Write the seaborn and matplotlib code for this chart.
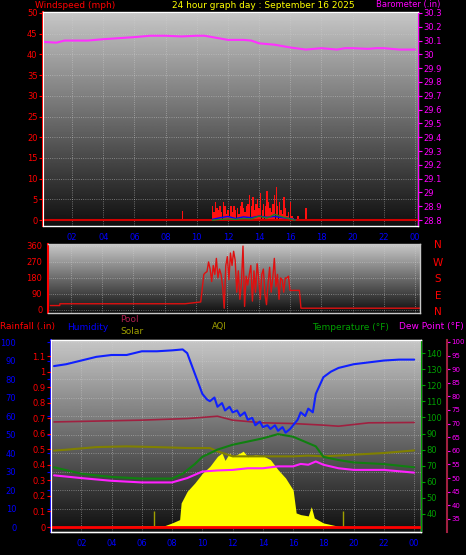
import numpy as np
import pandas as pd
import matplotlib
matplotlib.use("Agg")
import matplotlib.pyplot as plt
import seaborn as sns

sns.set_style("dark")
plt.rcParams['font.family'] = ['DejaVu Sans']

# ---------------- data ----------------
baro_hours = [0.2, 1, 1.5, 3, 4, 6, 7, 8, 9, 10, 10.5, 11, 12, 13, 13.5, 14, 15, 16, 17, 18, 19, 19.5, 20, 21, 21.5, 22, 23, 24]
baro_vals = [30.09, 30.085, 30.1, 30.1, 30.11, 30.125, 30.135, 30.135, 30.13, 30.135, 30.135, 30.125, 30.105, 30.105,
             30.1, 30.08, 30.07, 30.05, 30.035, 30.045, 30.035, 30.045, 30.045, 30.04, 30.045, 30.045, 30.035, 30.035]

gust_hours = [9.1] + [round(11.0 + 0.1 * i, 1) for i in range(53)] + [16.5, 17.0]
gust_vals = [2.3,
             3.5, 2.0, 4.5, 3.0, 2.5, 3.5, 2.0, 4.5, 3.5, 1.5, 2.5, 1.0, 3.5, 2.0, 3.5, 2.5, 3.0, 1.5, 3.5, 4.5,
             3.0, 2.0, 3.5, 4.0, 6.0, 3.5, 5.5, 2.5, 4.0, 5.0, 3.0, 6.5, 2.5, 4.0, 3.5, 7.0, 4.5, 3.0, 2.0, 4.0,
             6.0, 8.0, 3.5, 4.5, 2.5, 1.5, 5.5, 3.0, 1.0, 2.0, 4.5, 1.0, 0.5,
             1.0, 3.0]
avg_hours = [11.0, 11.5, 12.0, 12.5, 13.0, 13.5, 14.0, 14.5, 15.0, 15.5, 16.0, 16.3]
avg_vals = [0.2, 0.6, 0.9, 0.4, 0.8, 0.6, 1.0, 0.7, 0.9, 0.6, 0.4, 0.1]
low_vals = [0.0, 0.2, 0.3, 0.2, 0.4, 0.3, 1.0, 0.5, 1.4, 0.8, 0.3, 0.0]

dir_hours = [0.7, 1.3, 1.31, 9.3, 10.3] + [round(10.5 + 0.1 * i, 1) for i in range(68)] + [24.3]
dir_vals = [25, 25, 35, 35, 45,
            200, 210, 215, 270, 230, 160, 250, 200, 290, 180, 230, 200, 130, 10, 250, 300, 170, 320, 250,
            330, 280, 100, 220, 60, 150, 360, 20, 190, 140, 200, 250, 50, 220, 100, 260, 180, 60, 200, 230,
            90, 30, 150, 240, 100, 180, 290, 130, 200, 60, 180, 170, 100, 180, 180, 190, 110, 110, 110, 110,
            110, 110, 110, 10, 10, 10, 10, 10, 10,
            10]

hum_hours = [0.2, 1, 2, 3, 4, 5, 6, 7, 8, 8.7, 9, 9.5, 10, 10.3, 10.5, 10.8, 11, 11.3, 11.5, 11.8, 12, 12.3, 12.5,
             12.8, 13, 13.3, 13.5, 13.8, 14, 14.3, 14.5, 14.8, 15, 15.3, 15.5, 15.8, 16, 16.3, 16.5, 16.8, 17,
             17.3, 17.5, 18, 18.5, 19, 20, 21, 22, 23, 24]
hum_vals = [87, 88, 90, 92, 93, 93, 95, 95, 95.5, 96, 94, 83, 72, 69, 68, 70, 65, 67, 63, 65, 62, 63, 60, 62, 58,
            59, 55, 57, 54, 55, 53, 55, 52, 54, 51, 53, 55, 58, 62, 60, 64, 62, 72, 81, 84, 86, 88, 89, 90, 90.5, 90.5]

temp_hours = [0.2, 2, 4, 6, 8, 8.7, 9.5, 10, 11, 12, 13, 14, 15, 16, 17, 17.5, 18, 19, 20, 22, 24]
temp_vals = [69, 65, 63, 62, 62, 65, 71, 75.5, 80, 83, 85, 87, 89.6, 88, 84, 82, 75.5, 73.5, 72, 71, 69]

dew_hours = [0.2, 2, 4, 6, 8, 9, 10, 11, 12, 13, 14, 15, 16, 16.5, 17, 17.5, 18, 19, 20, 22, 24]
dew_vals = [51, 50, 49, 48.4, 48.4, 50, 52.4, 52.8, 53, 53.6, 53.6, 54.3, 54.3, 55.2, 54.9, 56.1, 54.9, 53.6, 53, 53, 52]

pool_hours = [0.2, 6, 9, 11, 12, 14, 16, 18, 19, 21, 24]
pool_vals = [60.7, 61.7, 62.6, 63.9, 61.7, 60.2, 59.8, 58.9, 58.3, 60.2, 60.4]

aqi_hours = [0.2, 1, 3, 5, 7, 9, 10.5, 11, 12, 14, 16, 17, 18, 20, 22, 24]
aqi_vals = [41.3, 41.8, 43.2, 43.6, 43.2, 42.7, 42.7, 40.9, 38.2, 38.2, 38.2, 38.6, 38.2, 39.1, 40.0, 41.4]

solar_hours = [0, 7.5, 8, 8.5, 8.6, 9, 9.5, 10, 10.5, 11, 11.3, 11.5, 11.8, 12, 12.5, 12.7, 13, 13.5, 14, 14.5,
               15, 15.5, 16, 16.2, 16.5, 17, 17.2, 17.4, 18, 18.5, 19, 24]
solar_vals = [0, 0.7, 2.2, 4, 13, 19.3, 23.8, 29, 32.8, 38.2, 40, 36, 40, 38, 40, 41, 38, 39, 38.5, 36.4,
              31, 26.5, 20, 7.6, 6.7, 6, 11, 4.9, 2.2, 1.3, 0.4, 0]
spike_hours = [6.8, 19.3]
spike_vals = [8.5, 8.5]

BG = "black"
fig = plt.figure(figsize=(4.66, 5.55), dpi=100, facecolor=BG)
W, H = 466, 555


def mk_ax(l, t, r, b):
    return fig.add_axes([l / W, 1 - b / H, (r - l) / W, (b - t) / H])


def style(ax, xlim, ylim, ycolor, yticks, xlabels=True):
    grad = np.linspace(1, 0, 256).reshape(-1, 1)
    ax.imshow(grad, extent=[0, 1, 0, 1], transform=ax.transAxes, aspect='auto',
              cmap='gray', vmin=-0.08, vmax=1.3, zorder=0)
    ax.set_xlim(*xlim)
    ax.set_ylim(*ylim)
    ax.set_facecolor("#202020")
    ax.set_xticks(range(2, 25, 2))
    ax.set_xticks(range(1, 25), minor=True)
    ax.set_xticklabels(["%02d" % (h % 24) for h in range(2, 25, 2)] if xlabels else [],
                       color="#0000ff", fontsize=6)
    ax.set_yticks(yticks)
    ax.tick_params(axis='y', colors=ycolor, labelsize=6, length=3, pad=1)
    ax.tick_params(axis='x', colors="#0000ff", length=3, pad=2)
    ax.grid(True, color="#d0d0d0", linestyle=":", linewidth=0.6, alpha=0.6)
    for s in ax.spines.values():
        s.set_color("#c8c8c8")
        s.set_linewidth(1)
    ax.spines['left'].set_color(ycolor)
    ax.spines['left'].set_linewidth(1.5)
    ax.set_xlabel("")
    ax.set_ylabel("")


# ---------- top panel ----------
ax1 = mk_ax(43, 12, 418, 226)
ax1.bar(gust_hours, gust_vals, width=0.09, color="#ff1010", zorder=3, linewidth=0, edgecolor="none")
sns.lineplot(x=avg_hours, y=avg_vals, ax=ax1, color="#0000ff", lw=1, zorder=4)
sns.lineplot(x=avg_hours, y=low_vals, ax=ax1, color="#208020", lw=1, zorder=4)
ax1.axhline(0, color="#d00000", lw=1.5, zorder=3)
style(ax1, (0.13, 24.2), (-1.4, 50.2), "red", range(0, 51, 5))
ax1.set_yticklabels([str(v) for v in range(0, 51, 5)])
ax1b = ax1.twinx()
sns.lineplot(x=baro_hours, y=baro_vals, ax=ax1b, color="#ff30ff", lw=1.5)
ax1b.set_ylim(28.757, 30.307)
bt = [round(28.8 + 0.1 * i, 1) for i in range(16)]
ax1b.set_yticks(bt)
ax1b.set_yticklabels([("%g" % v) for v in bt])
ax1b.tick_params(axis='y', colors="#ff00ff", labelsize=6, length=3, pad=1)
ax1b.spines['right'].set_color("#ff00ff")
ax1b.set_ylabel("")
ax1b.grid(False)

fig.text(35 / W, 1 - 5 / H, "Windspeed (mph)", color="red", fontsize=6.5, va="center")
fig.text(172 / W, 1 - 5 / H, "24 hour graph day : September 16 2025", color="yellow", fontsize=6.5, va="center")
fig.text(440 / W, 1 - 4.5 / H, "Barometer (.in)", color="#ff00ff", fontsize=6, va="center", ha="right")

# ---------- middle panel ----------
ax2 = mk_ax(48, 244, 420, 313)
sns.lineplot(x=dir_hours, y=dir_vals, ax=ax2, color="#e01010", lw=1, estimator=None, sort=False)
style(ax2, (0.55, 24.3), (-17, 371), "red", [0, 90, 180, 270, 360], xlabels=False)
ax2.set_yticklabels(["0", "90", "180", "270", "360"])
for lab, yy in zip("NWSEN", [245, 263, 279, 296, 312]):
    fig.text(438 / W, 1 - yy / H, lab, color="red", fontsize=7.5, va="center", ha="center")

# ---------- bottom panel ----------
ax3 = mk_ax(51, 340, 421, 532)
ax3.fill_between(solar_hours, 0, solar_vals, color="yellow", zorder=2, lw=0)
ax3.vlines(spike_hours, 0, spike_vals, color="#a0a000", lw=1, zorder=2)
sns.lineplot(x=pool_hours, y=[v * 1.78 / 1.85 - 1.6 for v in pool_vals], ax=ax3, color="#a02040", lw=1.2, zorder=3)
sns.lineplot(x=aqi_hours, y=aqi_vals, ax=ax3, color="#808000", lw=1.5, zorder=3)
sns.lineplot(x=hum_hours, y=hum_vals, ax=ax3, color="#1020ff", lw=1.5, zorder=5)
style(ax3, (0, 24.45), (-2.7, 101.1), "#0000ff", range(0, 101, 10))
ax3.set_yticklabels([str(v) for v in range(0, 101, 10)])
ax3.tick_params(axis='y', pad=22)
ax3.axhline(0, color="#ff0000", lw=2, zorder=4)

axr = ax3.twinx()
axr.set_ylim(-0.032, 1.203)
axr.yaxis.set_ticks_position('left')
rt = [round(0.1 * i, 1) for i in range(12)]
axr.set_yticks(rt)
axr.set_yticklabels([("%g" % v) for v in rt])
axr.tick_params(axis='y', colors="red", labelsize=6, length=3, pad=1)
axr.spines['left'].set_color("red")
axr.grid(False)

axt = ax3.twinx()
sns.lineplot(x=temp_hours, y=temp_vals, ax=axt, color="#108010", lw=1.5, zorder=4)
axt.set_ylim(28.8, 148.1)
axt.set_yticks(range(40, 141, 10))
axt.set_yticklabels([str(v) for v in range(40, 141, 10)])
axt.tick_params(axis='y', colors="#00a000", labelsize=6, length=3, pad=1)
axt.spines['right'].set_color("#00a000")
axt.set_ylabel("")
axt.grid(False)

axd = ax3.twinx()
sns.lineplot(x=dew_hours, y=dew_vals, ax=axd, color="#ff20ff", lw=1.5, zorder=4)
axd.set_ylim(30.2, 100.7)
axd.spines['right'].set_position(('outward', 19))
axd.spines['right'].set_color("#a02040")
axd.spines['right'].set_linewidth(1.5)
axd.set_yticks(range(35, 101, 5))
axd.set_yticklabels([str(v) for v in range(35, 101, 5)])
axd.tick_params(axis='y', colors="#ff00ff", labelsize=5, length=2, pad=1)
axd.set_ylabel("")
axd.grid(False)

fig.text(0 / W, 1 - 327 / H, "Rainfall (.in)", color="red", fontsize=6.5, va="center")
fig.text(67 / W, 1 - 327 / H, "Humidity", color="#0000ff", fontsize=6.5, va="center")
fig.text(120 / W, 1 - 319 / H, "Pool", color="#b02050", fontsize=6.5, va="center")
fig.text(120 / W, 1 - 332 / H, "Solar", color="#a0a000", fontsize=6.5, va="center")
fig.text(212 / W, 1 - 327 / H, "AQI", color="#a0a000", fontsize=6, va="center")
fig.text(312 / W, 1 - 327 / H, "Temperature (°F)", color="#00a000", fontsize=6.5, va="center")
fig.text(464 / W, 1 - 327 / H, "Dew Point (°F)", color="#ff00ff", fontsize=6.5, va="center", ha="right")

fig.savefig("out.png", dpi=100, facecolor=BG)
